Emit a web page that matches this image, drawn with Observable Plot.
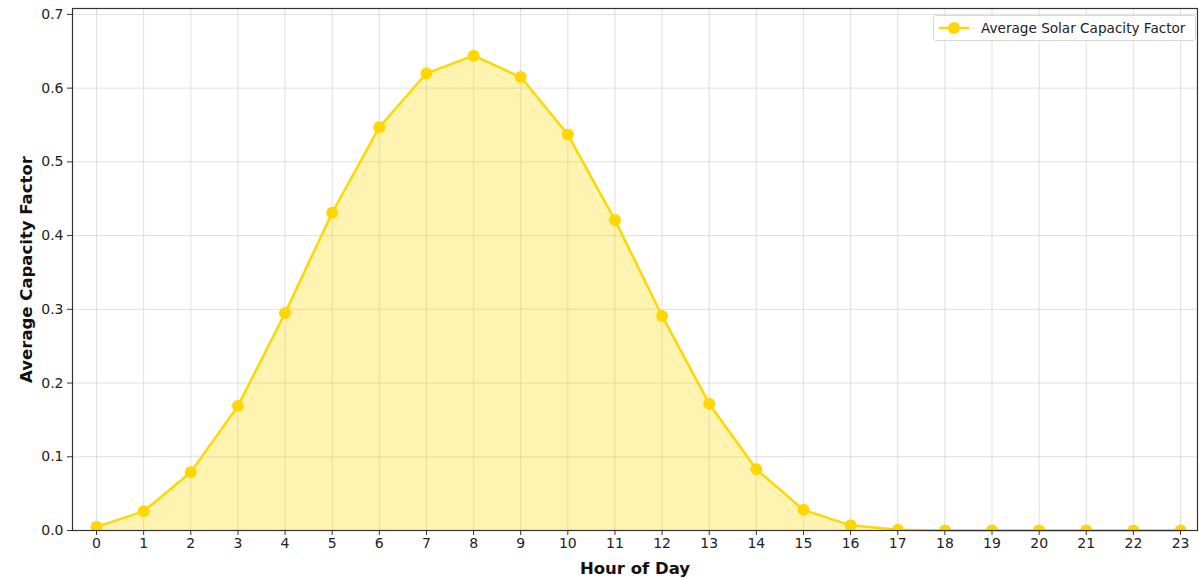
<!DOCTYPE html>
<html>
<head>
<meta charset="utf-8">
<script src="https://cdn.jsdelivr.net/npm/d3@7"></script>
<script src="https://cdn.jsdelivr.net/npm/@observablehq/plot@0.6"></script>
<style>
  html, body { margin: 0; padding: 0; background: #fff; }
  #wrap { position: relative; width: 1199px; height: 578px; font-family: "DejaVu Sans", sans-serif; }
  #legend { position: absolute; left: 933px; top: 15px; width: 263px; height: 26px; border: 1px solid #d8d8d8; border-radius: 3px; background: rgba(255,255,255,0.85); box-sizing: border-box; display: flex; align-items: center; font-size: 13.6px; color: #222; white-space: nowrap; }
  #legend svg { margin-left: 3px; margin-right: 10px; }
</style>
</head>
<body>
<div id="wrap"><div id="legend"></div></div>
<script>
const hours = d3.range(24);
const capacityFactor = [0.005, 0.026, 0.079, 0.169, 0.295, 0.431, 0.547, 0.620, 0.644, 0.615, 0.537, 0.421, 0.291, 0.172, 0.083, 0.028, 0.007, 0.001, 0, 0, 0, 0, 0, 0];
const yTicks = [0, 0.1, 0.2, 0.3, 0.4, 0.5, 0.6, 0.7];
const seriesName = "Average Solar Capacity Factor";
const xLabel = "Hour of Day";
const yLabel = "Average Capacity Factor";

const data = hours.map((h, i) => ({hour: h, value: capacityFactor[i]}));
const gold = "#FFD700";

const chart = Plot.plot({
  width: 1199,
  height: 578,
  marginLeft: 72,
  marginRight: 2,
  marginTop: 8,
  marginBottom: 48,
  style: {fontFamily: "DejaVu Sans, sans-serif", background: "#fff", color: "#222"},
  x: {domain: [-0.51, 23.36], label: null},
  y: {domain: [0, 0.708], label: null},
  marks: [
    Plot.gridX(hours, {stroke: "#bbb", strokeOpacity: 0.45, strokeWidth: 1}),
    Plot.gridY(yTicks, {stroke: "#bbb", strokeOpacity: 0.45, strokeWidth: 1}),
    Plot.areaY(data, {x: "hour", y: "value", fill: gold, fillOpacity: 0.3}),
    Plot.lineY(data, {x: "hour", y: "value", stroke: gold, strokeWidth: 2.5}),
    Plot.dot(data, {x: "hour", y: "value", r: 6, fill: gold, stroke: "none", clip: true}),
    Plot.frame({stroke: "#333", strokeWidth: 1.2}),
    Plot.axisX(hours, {tickSize: 5, tickPadding: 3, fontSize: 14, tickFormat: d => String(d), label: null, stroke: "#333"}),
    Plot.axisY(yTicks, {tickSize: 5, tickPadding: 4, fontSize: 14, tickFormat: d3.format(".1f"), label: null, stroke: "#333"}),
    Plot.text([xLabel], {frameAnchor: "bottom", dy: 43, fontSize: 16.5, fontWeight: "bold", fill: "#111"}),
    Plot.text([yLabel], {frameAnchor: "left", textAnchor: "middle", dx: -46, rotate: -90, fontSize: 16.5, fontWeight: "bold", fill: "#111"})
  ]
});
const wrap = document.getElementById("wrap");
wrap.insertBefore(chart, wrap.firstChild);

const legend = document.getElementById("legend");
legend.innerHTML = `<svg width="34" height="14"><line x1="2" y1="7" x2="32" y2="7" stroke="${gold}" stroke-width="2.5"/><circle cx="17" cy="7" r="6" fill="${gold}"/></svg><span>${seriesName}</span>`;
</script>
</body>
</html>
